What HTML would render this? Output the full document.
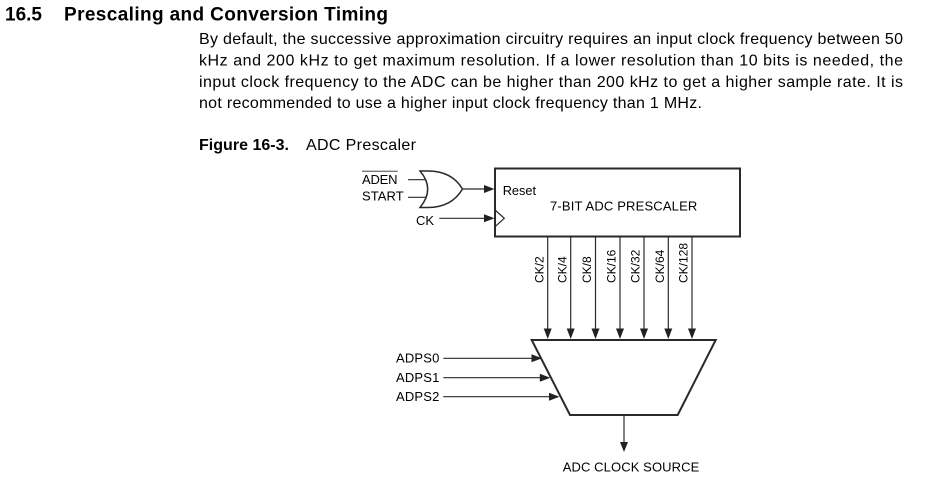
<!DOCTYPE html>
<html>
<head>
<meta charset="utf-8">
<style>
  html, body { margin: 0; padding: 0; background: #fff; }
  body { width: 945px; height: 491px; overflow: hidden; }
  svg { display: block; }
  text { font-family: "Liberation Sans", Arial, sans-serif; fill: #000; }
</style>
</head>
<body>
<svg width="945" height="491" viewBox="0 0 945 491" xmlns="http://www.w3.org/2000/svg">
  <!-- Heading -->
  <text x="5" y="20.7" font-size="19" font-weight="bold" textLength="37" lengthAdjust="spacing">16.5</text>
  <text x="64" y="20.7" font-size="19" font-weight="bold" textLength="324" lengthAdjust="spacing">Prescaling and Conversion Timing</text>

  <!-- Paragraph -->
  <text x="199" y="44" font-size="16" textLength="704" lengthAdjust="spacing">By default, the successive approximation circuitry requires an input clock frequency between 50</text>
  <text x="199" y="65.5" font-size="16" textLength="704" lengthAdjust="spacing">kHz and 200 kHz to get maximum resolution. If a lower resolution than 10 bits is needed, the</text>
  <text x="199" y="86.8" font-size="16" textLength="704" lengthAdjust="spacing">input clock frequency to the ADC can be higher than 200 kHz to get a higher sample rate. It is</text>
  <text x="199" y="108" font-size="16" textLength="503" lengthAdjust="spacing">not recommended to use a higher input clock frequency than 1 MHz.</text>

  <!-- Figure caption -->
  <text x="199" y="150" font-size="16" font-weight="bold" textLength="90" lengthAdjust="spacing">Figure 16-3.</text>
  <text x="306" y="150" font-size="16" textLength="110" lengthAdjust="spacing">ADC Prescaler</text>

  <!-- Diagram -->
  <g fill="none" stroke="#2a2a2a">
    <!-- Prescaler box -->
    <rect x="495" y="168.5" width="245" height="68" stroke-width="2"/>
    <!-- clock triangle -->
    <polyline points="495,210 504.3,218.3 495,226.7" stroke-width="1.2"/>

    <!-- OR gate -->
    <path d="M420,171 L428,171 C445,171 456,178 462.5,189 C456,200 445,207.5 428,207.5 L420,207.5 Q435.4,189 420,171 Z" stroke-width="1.5"/>
    <!-- gate inputs -->
    <line x1="408" y1="179.7" x2="425.5" y2="179.7" stroke-width="1.2"/>
    <line x1="408" y1="197.3" x2="425.5" y2="197.3" stroke-width="1.2"/>
    <!-- gate output -->
    <line x1="462.5" y1="189" x2="486" y2="189" stroke-width="1.2"/>
    <!-- CK input -->
    <line x1="439.3" y1="218.3" x2="486" y2="218.3" stroke-width="1.2"/>

    <!-- vertical CK lines -->
    <line x1="547.7" y1="237" x2="547.7" y2="330" stroke-width="1.2"/>
    <line x1="570.7" y1="237" x2="570.7" y2="330" stroke-width="1.2"/>
    <line x1="595.5" y1="237" x2="595.5" y2="330" stroke-width="1.2"/>
    <line x1="620" y1="237" x2="620" y2="330" stroke-width="1.2"/>
    <line x1="644" y1="237" x2="644" y2="330" stroke-width="1.2"/>
    <line x1="668.3" y1="237" x2="668.3" y2="330" stroke-width="1.2"/>
    <line x1="692" y1="237" x2="692" y2="330" stroke-width="1.2"/>

    <!-- Mux trapezoid -->
    <polygon points="531.7,340 715.7,340 677.7,415 570,415" stroke-width="2"/>

    <!-- ADPS lines -->
    <line x1="443.3" y1="358.3" x2="533" y2="358.3" stroke-width="1.2"/>
    <line x1="443.3" y1="377.7" x2="541" y2="377.7" stroke-width="1.2"/>
    <line x1="443.3" y1="396.7" x2="550" y2="396.7" stroke-width="1.2"/>

    <!-- output -->
    <line x1="624" y1="416" x2="624" y2="443" stroke-width="1.2"/>

    <!-- ADEN overline -->
    <line x1="362" y1="171.3" x2="397.7" y2="171.3" stroke="#777" stroke-width="1.3"/>
  </g>

  <!-- arrowheads -->
  <g fill="#222" stroke="none">
    <polygon points="484,185 484,193 494.5,189"/>
    <polygon points="484,214.3 484,222.3 494.5,218.3"/>

    <polygon points="543.7,328.5 551.7,328.5 547.7,339"/>
    <polygon points="566.7,328.5 574.7,328.5 570.7,339"/>
    <polygon points="591.5,328.5 599.5,328.5 595.5,339"/>
    <polygon points="616,328.5 624,328.5 620,339"/>
    <polygon points="640,328.5 648,328.5 644,339"/>
    <polygon points="664.3,328.5 672.3,328.5 668.3,339"/>
    <polygon points="688,328.5 696,328.5 692,339"/>

    <polygon points="531.5,354.3 531.5,362.3 542,358.3"/>
    <polygon points="539.8,373.7 539.8,381.7 550.3,377.7"/>
    <polygon points="549,392.7 549,400.7 559.5,396.7"/>

    <polygon points="620,442 628,442 624,452"/>
  </g>

  <!-- Diagram labels -->
  <g font-size="13" fill="#111">
    <text x="362" y="184" textLength="35.5" lengthAdjust="spacing">ADEN</text>
    <text x="362" y="200.7" textLength="41.7" lengthAdjust="spacing">START</text>
    <text x="416" y="225">CK</text>
    <text x="502.7" y="195" font-size="12.8" textLength="33.3" lengthAdjust="spacing">Reset</text>
    <text x="550" y="210.7" textLength="147.3" lengthAdjust="spacing">7-BIT ADC PRESCALER</text>
    <text x="396" y="362.6" textLength="43.3" lengthAdjust="spacing">ADPS0</text>
    <text x="396" y="382" textLength="43.3" lengthAdjust="spacing">ADPS1</text>
    <text x="396" y="401" textLength="43.3" lengthAdjust="spacing">ADPS2</text>
    <text x="562.7" y="471.5" textLength="136.6" lengthAdjust="spacing">ADC CLOCK SOURCE</text>
  </g>

  <!-- rotated CK labels -->
  <g font-size="12" fill="#111">
    <text transform="translate(543.3,283) rotate(-90)">CK/2</text>
    <text transform="translate(566.3,283) rotate(-90)">CK/4</text>
    <text transform="translate(591.1,283) rotate(-90)">CK/8</text>
    <text transform="translate(615.6,283) rotate(-90)">CK/16</text>
    <text transform="translate(639.6,283) rotate(-90)">CK/32</text>
    <text transform="translate(663.9,283) rotate(-90)">CK/64</text>
    <text transform="translate(687.6,283) rotate(-90)">CK/128</text>
  </g>
</svg>
</body>
</html>
